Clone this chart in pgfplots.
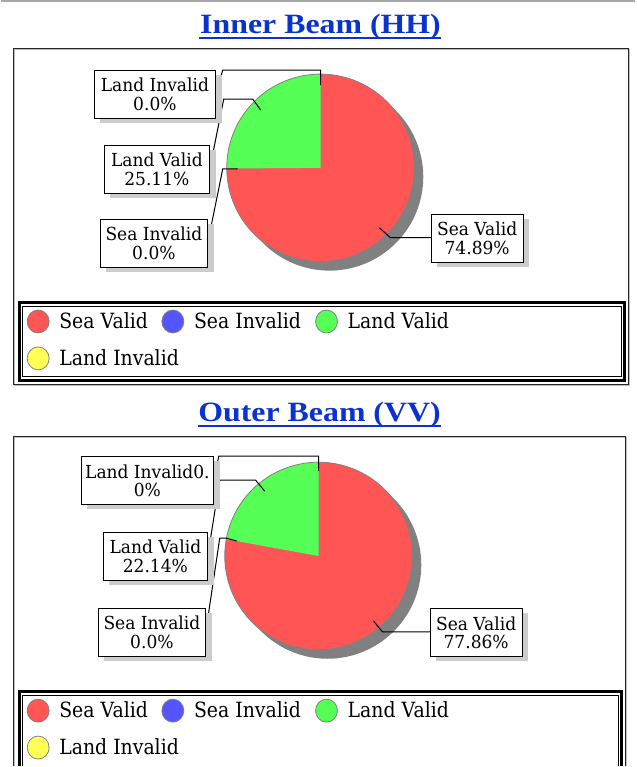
\documentclass[border=0pt]{standalone}
\usepackage{pgfplots}
\pgfplotsset{compat=1.18}
\usepackage{fontspec}
\setmainfont{DejaVu Serif}
\newfontfamily\boxfont[FakeStretch=0.95]{DejaVu Serif}
\newfontfamily\legfont[FakeStretch=0.9]{DejaVu Serif}
\newfontfamily\titlefont[FakeStretch=1.14]{Liberation Serif}
\definecolor{pred}{RGB}{255,85,85}
\definecolor{pgreen}{RGB}{85,255,85}
\definecolor{pblue}{RGB}{85,85,255}
\definecolor{pyellow}{RGB}{255,255,85}
\definecolor{pgray}{RGB}{128,128,128}
\definecolor{pshadow}{RGB}{128,128,128}
\definecolor{bshadow}{RGB}{204,204,204}
\definecolor{tblue}{RGB}{10,50,205}
% data (percent)
\def\SVa{74.89}\def\SIa{0.0}\def\LVa{25.11}\def\LIa{0.0}
\def\SVb{77.86}\def\SIb{0.0}\def\LVb{22.14}\def\LIb{0.0}
\newcommand{\callout}[5]{%
  \fill[bshadow] ({#1-#3/2+6},{#2-#4/2+5}) rectangle ({#1+#3/2+6},{#2+#4/2+5});
  \node[draw=black, line width=1bp, fill=white, minimum width=#3bp, minimum height=#4bp, inner sep=0pt, align=center,
        font=\boxfont\fontsize{18bp}{18.5bp}\selectfont] at (#1,{#2+0.5}) {#5};
}
\newcommand{\legenditem}[4]{%
  \draw[fill=#3, draw=pgray, line width=0.8bp] (#1,#2) ellipse [x radius=11bp, y radius=11.5bp];
  \node[anchor=base west, inner sep=0pt, font=\legfont\fontsize{21bp}{24bp}\selectfont] at ({#1+21},{#2+7}) {#4};
}
\newcommand{\legendbox}[4]{%
  \draw[black, line width=3bp] (#1,#2) rectangle (#3,#4);
  \draw[black, line width=0.8bp] ({#1+3.5},{#2+3.5}) rectangle ({#3-3.5},{#4-3.5});
}
\begin{document}
\begin{tikzpicture}
\begin{axis}[scale only axis, width=635bp, height=767bp,
  xmin=0, xmax=635, ymin=0, ymax=767, y dir=reverse,
  hide axis, clip=false]
\path (0,0) rectangle (635,767);
\draw[black!35, line width=2.5bp] (0,1) -- (635,1);
% ===== Panel 1 =====
\node[anchor=base, inner sep=0pt, text=tblue, font=\titlefont\bfseries\fontsize{28bp}{32bp}\selectfont] at (320,33) {Inner Beam (HH)};
\draw[tblue, line width=2bp] (198,37.5) -- (441,37.5);
\draw[black!25, line width=1bp] (13,49) rectangle (630,386);
\draw[black!85, line width=1.2bp] (12,48) rectangle (629,385);
% pie shadow
\addplot[fill=pshadow, draw=none, domain=0:360, samples=121, variable=\t] ({329+94*cos(\t)},{177-94*sin(\t)}) -- cycle;
% slices
\addplot[fill=pred, draw=none, domain={90-3.6*\SVa}:90, samples=121, variable=\t] ({320+94*cos(\t)},{168-94*sin(\t)}) -- (320,168) -- cycle;
\addplot[fill=pgreen, draw=none, domain=-270:{90-3.6*\SVa}, samples=61, variable=\t] ({320+94*cos(\t)},{168-94*sin(\t)}) -- (320,168) -- cycle;
\addplot[draw=pgray, line width=0.8bp, domain=0:360, samples=121, variable=\t] ({320+94*cos(\t)},{168-94*sin(\t)});
% leader lines
\draw[black, line width=1bp] (379,228) -- (390,238) -- (431,238);
\draw[black, line width=1bp] (237,169) -- (222,169) -- (207,243);
\draw[black, line width=1bp] (260,110) -- (252,99) -- (223,99) -- (209,169);
\draw[black, line width=1bp] (320,85) -- (320,70) -- (222,70) -- (215,94);
\callout{154}{94}{122}{48}{Land Invalid\\0.0\%}
\callout{156}{169}{106}{48}{Land Valid\\25.11\%}
\callout{153}{243}{108}{48}{Sea Invalid\\0.0\%}
\callout{477}{238}{92}{48}{Sea Valid\\74.89\%}
\legendbox{18}{303}{625}{381}
\legenditem{37}{322}{pred}{Sea Valid}
\legenditem{172}{322}{pblue}{Sea Invalid}
\legenditem{326}{322}{pgreen}{Land Valid}
\legenditem{37}{359}{pyellow}{Land Invalid}
% ===== Panel 2 =====
\node[anchor=base, inner sep=0pt, text=tblue, font=\titlefont\bfseries\fontsize{28bp}{32bp}\selectfont] at (319,422) {Outer Beam (VV)};
\draw[tblue, line width=2bp] (197,426.5) -- (441,426.5);
\draw[black!25, line width=1bp] (13,767) -- (13,438) -- (627,438) -- (627,767);
\draw[black!85, line width=1.2bp] (12,767) -- (12,437) -- (626,437) -- (626,767);
\addplot[fill=pshadow, draw=none, domain=0:360, samples=121, variable=\t] ({327+94*cos(\t)},{566-94*sin(\t)}) -- cycle;
\addplot[fill=pred, draw=none, domain={90-3.6*\SVb}:90, samples=121, variable=\t] ({318+94*cos(\t)},{557-94*sin(\t)}) -- (318,557) -- cycle;
\addplot[fill=pgreen, draw=none, domain=-270:{90-3.6*\SVb}, samples=61, variable=\t] ({318+94*cos(\t)},{557-94*sin(\t)}) -- (318,557) -- cycle;
\addplot[draw=pgray, line width=0.8bp, domain=0:360, samples=121, variable=\t] ({318+94*cos(\t)},{557-94*sin(\t)});
\draw[black, line width=1bp] (373,622) -- (382,633) -- (430,633);
\draw[black, line width=1bp] (236,542) -- (225,539) -- (219,539) -- (205,633);
\draw[black, line width=1bp] (264,492) -- (255,481) -- (219,481) -- (207,557);
\draw[black, line width=1bp] (318,472) -- (318,457) -- (218,457) -- (213,481);
\callout{146.5}{481}{133}{48}{Land Invalid0.\\0\%}
\callout{154.5}{557}{105}{48}{Land Valid\\22.14\%}
\callout{151}{633}{108}{48}{Sea Invalid\\0.0\%}
\callout{476}{633.5}{92}{48}{Sea Valid\\77.86\%}
\draw[black, line width=3bp] (18,767) -- (18,693) -- (622,693) -- (622,767);
\draw[black, line width=0.8bp] (21.5,767) -- (21.5,696.5) -- (618.5,696.5) -- (618.5,767);
\legenditem{37}{712}{pred}{Sea Valid}
\legenditem{172}{712}{pblue}{Sea Invalid}
\legenditem{326}{712}{pgreen}{Land Valid}
\legenditem{37}{749}{pyellow}{Land Invalid}
\end{axis}
\end{tikzpicture}
\end{document}
